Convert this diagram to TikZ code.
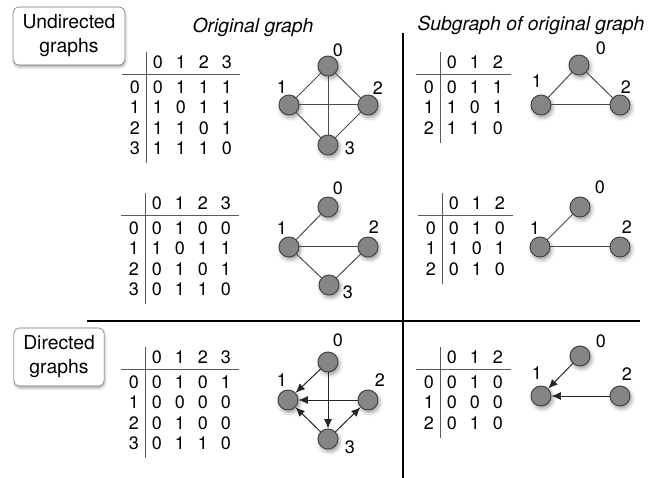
\documentclass[tikz,border=0pt]{standalone}
\usepackage{fontspec}
\setmainfont{TeX Gyre Heros}
\usetikzlibrary{matrix,calc,arrows.meta,shadows.blur}

\tikzset{
  vtx/.style={circle, draw=black!75, fill=black!48, line width=0.7pt,
    minimum size=15pt, inner sep=0pt,
    blur shadow={shadow xshift=1.2pt, shadow yshift=-2pt, shadow blur radius=3pt, shadow opacity=40}},
  lbl/.style={font=\fontsize{13.5}{15}\selectfont, inner sep=0pt},
  edge/.style={draw=black!70, line width=0.75pt},
  arc/.style={edge, draw=black!85, -{Latex[length=7pt,width=6pt]}},
  adj/.style={matrix of nodes, inner sep=0pt, row sep=0pt, column sep=0pt,
    nodes={minimum width=17.25pt, minimum height=15pt, inner sep=0pt,
      font=\fontsize{13.5}{15}\selectfont}},
  rule/.style={draw=black!65, line width=0.8pt},
  kind/.style={draw=black!55, rounded corners=4pt, fill=white, align=center,
    font=\fontsize{14.5}{18}\selectfont, inner xsep=7pt, minimum height=43.5pt,
    blur shadow={shadow xshift=0.5pt, shadow yshift=-1.5pt, shadow blur radius=2pt, shadow opacity=35}},
  heading/.style={font=\fontsize{14.5}{18}\selectfont\itshape, inner sep=0pt}
}

% table rules: vertical after the row labels, horizontal under the header
\newcommand{\adjrules}[1]{%
  \draw[rule] (#1-2-1.east |- #1.north) -- ($(#1-2-1.east |- #1.south)+(0,5)$);
  \draw[rule] ($(#1.west |- #1-2-1.north)+(-1,-2.5)$) -- ($(#1.east |- #1-2-1.north)+(1,-2.5)$);
}

\begin{document}
\begin{tikzpicture}[x=0.75pt, y=-0.75pt]
\useasboundingbox (0,0) rectangle (651,478);

% kind boxes and column headings
\node[kind] (und) at (69,36) {Undirected\\graphs};
\node[kind] (dir) at (59,357) {Directed\\graphs};
\node[heading] (orig) at (253,27) {Original graph};
\node[heading] (sub) at (531,25) {Subgraph of original graph};

% dividers
\draw[line width=1pt] (403,33) -- (403,478);
\draw[line width=2.2pt] (87,321) -- (640,321);

%% undirected, original
\matrix (uot) [adj, anchor=north west] at (123,52) {
   & 0 & 1 & 2 & 3 \\[3.75pt]
 0 & 0 & 1 & 1 & 1 \\
 1 & 1 & 0 & 1 & 1 \\
 2 & 1 & 1 & 0 & 1 \\
 3 & 1 & 1 & 1 & 0 \\
};
\adjrules{uot}

\node[vtx] (uo0) at (328,66) {};
\node[vtx] (uo1) at (289,105) {};
\node[vtx] (uo2) at (368,105) {};
\node[vtx] (uo3) at (328,145) {};
\node[lbl] (uo0l) at (338,50) {0};
\node[lbl] (uo1l) at (282,87) {1};
\node[lbl] (uo2l) at (378,88) {2};
\node[lbl] (uo3l) at (350,148) {3};
\draw[edge] (uo0) -- (uo1);
\draw[edge] (uo0) -- (uo2);
\draw[edge] (uo0) -- (uo3);
\draw[edge] (uo1) -- (uo2);
\draw[edge] (uo1) -- (uo3);
\draw[edge] (uo2) -- (uo3);

%% undirected, subgraph
\matrix (ust) [adj, anchor=north west] at (417,52) {
   & 0 & 1 & 2 \\[3.75pt]
 0 & 0 & 1 & 1 \\
 1 & 1 & 0 & 1 \\
 2 & 1 & 1 & 0 \\
};
\adjrules{ust}

\node[vtx] (us0) at (579,65) {};
\node[vtx] (us1) at (541,105) {};
\node[vtx] (us2) at (620,105) {};
\node[lbl] (us0l) at (601,48) {0};
\node[lbl] (us1l) at (537,81) {1};
\node[lbl] (us2l) at (626,87) {2};
\draw[edge] (us0) -- (us1);
\draw[edge] (us0) -- (us2);
\draw[edge] (us1) -- (us2);

%% second undirected, original
\matrix (vot) [adj, anchor=north west] at (122,193) {
   & 0 & 1 & 2 & 3 \\[3.75pt]
 0 & 0 & 1 & 0 & 0 \\
 1 & 1 & 0 & 1 & 1 \\
 2 & 0 & 1 & 0 & 1 \\
 3 & 0 & 1 & 1 & 0 \\
};
\adjrules{vot}

\node[vtx] (vo0) at (328,207) {};
\node[vtx] (vo1) at (289,247) {};
\node[vtx] (vo2) at (368,247) {};
\node[vtx] (vo3) at (329,285) {};
\node[lbl] (vo0l) at (338,188) {0};
\node[lbl] (vo1l) at (282,228) {1};
\node[lbl] (vo2l) at (374,227) {2};
\node[lbl] (vo3l) at (348,292) {3};
\draw[edge] (vo0) -- (vo1);
\draw[edge] (vo1) -- (vo2);
\draw[edge] (vo1) -- (vo3);
\draw[edge] (vo2) -- (vo3);

%% second undirected, subgraph
\matrix (vst) [adj, anchor=north west] at (419,193) {
   & 0 & 1 & 2 \\[3.75pt]
 0 & 0 & 1 & 0 \\
 1 & 1 & 0 & 1 \\
 2 & 0 & 1 & 0 \\
};
\adjrules{vst}

\node[vtx] (vs0) at (580,207) {};
\node[vtx] (vs1) at (540,247) {};
\node[vtx] (vs2) at (620,247) {};
\node[lbl] (vs0l) at (600,187) {0};
\node[lbl] (vs1l) at (535,228) {1};
\node[lbl] (vs2l) at (627,227) {2};
\draw[edge] (vs0) -- (vs1);
\draw[edge] (vs1) -- (vs2);

%% directed, original
\matrix (dot) [adj, anchor=north west] at (122,347) {
   & 0 & 1 & 2 & 3 \\[3.75pt]
 0 & 0 & 1 & 0 & 1 \\
 1 & 0 & 0 & 0 & 0 \\
 2 & 0 & 1 & 0 & 0 \\
 3 & 0 & 1 & 1 & 0 \\
};
\adjrules{dot}

\node[vtx] (do0) at (328,362) {};
\node[vtx] (do1) at (288,400) {};
\node[vtx] (do2) at (368,400) {};
\node[vtx] (do3) at (328,439) {};
\node[lbl] (do0l) at (338,340) {0};
\node[lbl] (do1l) at (282,380) {1};
\node[lbl] (do2l) at (380,380) {2};
\node[lbl] (do3l) at (350,447) {3};
\draw[arc] (do0) -- (do1);
\draw[arc] (do0) -- (do3);
\draw[arc] (do2) -- (do1);
\draw[arc] (do3) -- (do1);
\draw[arc] (do3) -- (do2);

%% directed, subgraph
\matrix (dst) [adj, anchor=north west] at (417,347) {
   & 0 & 1 & 2 \\[3.75pt]
 0 & 0 & 1 & 0 \\
 1 & 0 & 0 & 0 \\
 2 & 0 & 1 & 0 \\
};
\adjrules{dst}

\node[vtx] (ds0) at (580,356) {};
\node[vtx] (ds1) at (541,396) {};
\node[vtx] (ds2) at (620,396) {};
\node[lbl] (ds0l) at (601,341) {0};
\node[lbl] (ds1l) at (537,373) {1};
\node[lbl] (ds2l) at (627,374) {2};
\draw[arc] (ds0) -- (ds1);
\draw[arc] (ds2) -- (ds1);

\end{tikzpicture}
\end{document}
